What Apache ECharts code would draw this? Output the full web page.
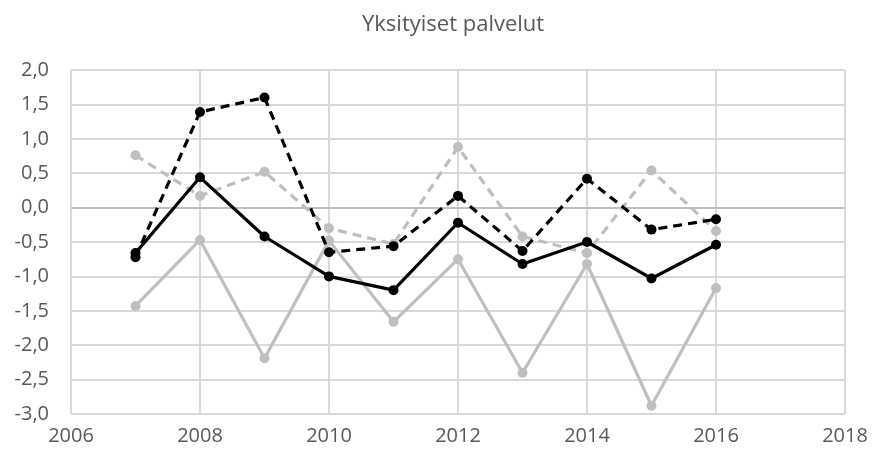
<!DOCTYPE html>
<html>
<head>
<meta charset="utf-8">
<script src="https://cdn.jsdelivr.net/npm/echarts@6/dist/echarts.min.js"></script>
<style>
  html, body { margin: 0; padding: 0; background: #fff; }
  #chart { width: 875px; height: 456px; }
</style>
</head>
<body>
<div id="chart"></div>
<script>
// Yksityiset palvelut, 2007-2016
const years = [2007, 2008, 2009, 2010, 2011, 2012, 2013, 2014, 2015, 2016];
const blackSolid = [-0.66, 0.44, -0.42, -1.0, -1.2, -0.22, -0.82, -0.5, -1.03, -0.54];
const blackDashed = [-0.72, 1.39, 1.6, -0.65, -0.56, 0.17, -0.63, 0.42, -0.32, -0.17];
const graySolid = [-1.43, -0.47, -2.19, -0.48, -1.66, -0.75, -2.4, -0.82, -2.88, -1.17];
const grayDashed = [0.76, 0.17, 0.52, -0.3, -0.53, 0.88, -0.42, -0.66, 0.54, -0.34];

const font = "'Open Sans', 'Liberation Sans', sans-serif";
const textColor = "#595959";
const gridColor = "#d9d9d9";

function pairs(vals) {
  return years.map((y, i) => [y, vals[i]]);
}

function lineSeries(name, vals, color, dashed) {
  return {
    name: name,
    type: "line",
    data: pairs(vals),
    symbol: "circle",
    symbolSize: 10,
    itemStyle: { color: color },
    lineStyle: {
      color: color,
      width: 3.2,
      type: dashed ? [9, 6] : "solid",
    },
    z: color === "#000000" ? 4 : 3,
  };
}

const chart = echarts.init(document.getElementById("chart"), null, { renderer: "canvas" });

const series = [
  lineSeries("graySolid", graySolid, "#bfbfbf", false),
  lineSeries("grayDashed", grayDashed, "#bfbfbf", true),
  lineSeries("blackSolid", blackSolid, "#000000", false),
  lineSeries("blackDashed", blackDashed, "#000000", true),
];

// horizontal axis line sits at zero, like the original
series[0].markLine = {
  silent: true,
  symbol: "none",
  label: { show: false },
  lineStyle: { color: "#bfbfbf", width: 2, type: "solid" },
  data: [{ yAxis: 0 }],
  z: 2,
};

const option = {
  animation: false,
  title: {
    text: "Yksityiset palvelut",
    left: 357,
    top: 9,
    textStyle: { fontFamily: font, fontSize: 22, fontWeight: "normal", color: textColor },
  },
  grid: { left: 71, right: 30, top: 70, bottom: 42 },
  xAxis: {
    type: "value",
    min: 2006,
    max: 2018,
    interval: 2,
    axisLine: { show: false },
    axisTick: { show: false },
    axisLabel: {
      color: textColor,
      fontFamily: font,
      fontSize: 20,
      margin: 12,
      formatter: (v) => String(v),
    },
    splitLine: { show: true, lineStyle: { color: gridColor, width: 2 } },
  },
  yAxis: {
    type: "value",
    min: -3,
    max: 2,
    interval: 0.5,
    axisLine: { show: false },
    axisTick: { show: false },
    axisLabel: {
      color: textColor,
      fontFamily: font,
      fontSize: 20,
      margin: 22,
      formatter: (v) => v.toFixed(1).replace(".", ","),
    },
    splitLine: { show: true, lineStyle: { color: gridColor, width: 2 } },
  },
  series: series,
};

chart.setOption(option, true);
</script>
</body>
</html>
